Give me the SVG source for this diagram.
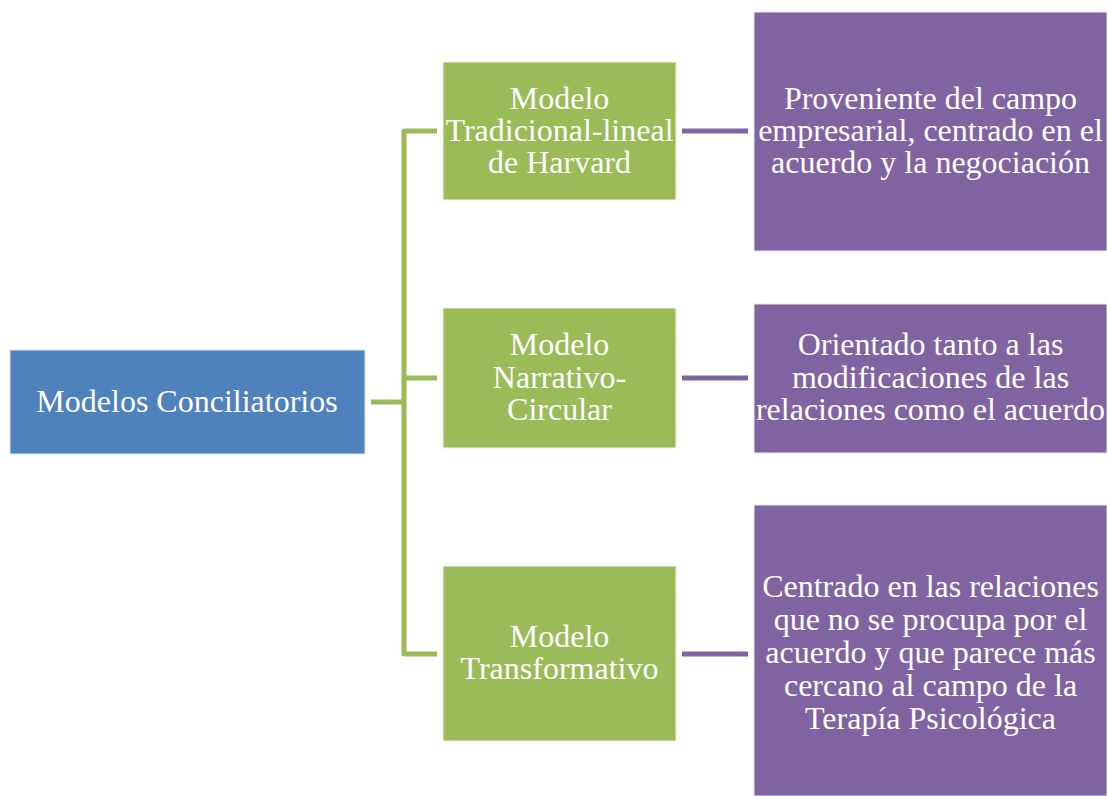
<svg xmlns="http://www.w3.org/2000/svg" width="1107" height="796" viewBox="0 0 1107 796">
<style>
.t{font-family:"Liberation Serif","Times New Roman",serif;font-size:32px;fill:#fff;text-anchor:middle}
.blue{fill:#4F81BD;stroke:#dfe8f3;stroke-width:1}
.green{fill:#9BBB59;stroke:#eef3e3;stroke-width:1}
.purple{fill:#8064A2;stroke:#ece6f2;stroke-width:1}
.cg{stroke:#9BBB59;stroke-width:5;fill:none;stroke-linejoin:round;stroke-linecap:butt}
.cp{stroke:#8064A2;stroke-width:5;fill:none}
</style>
<rect width="1107" height="796" fill="#fff"/>
<g id="connectors">
<path class="cg" d="M371 402 H404"/>
<path class="cg" d="M437 131 H404 V654 H437"/>
<path class="cg" d="M404 378 H437"/>
<path class="cp" d="M682 131 H748"/>
<path class="cp" d="M682 378 H748"/>
<path class="cp" d="M682 654 H748"/>
</g>
<g id="root">
<rect class="blue" x="10" y="350" width="355" height="104"/>
<text class="t" x="187" y="412">Modelos Conciliatorios</text>
</g>
<g id="m1">
<rect class="green" x="443" y="62" width="233" height="138"/>
<text class="t" x="559.5" y="109">Modelo</text>
<text class="t" x="559.5" y="141">Tradicional-lineal</text>
<text class="t" x="559.5" y="173">de Harvard</text>
</g>
<g id="m2">
<rect class="green" x="443" y="308" width="233" height="140"/>
<text class="t" x="559.5" y="355">Modelo</text>
<text class="t" x="559.5" y="388">Narrativo-</text>
<text class="t" x="559.5" y="420">Circular</text>
</g>
<g id="m3">
<rect class="green" x="443" y="566" width="233" height="175"/>
<text class="t" x="559.5" y="647">Modelo</text>
<text class="t" x="559.5" y="679">Transformativo</text>
</g>
<g id="d1">
<rect class="purple" x="754" y="12" width="353" height="239"/>
<text class="t" x="930.5" y="109">Proveniente del campo</text>
<text class="t" x="930.5" y="141">empresarial, centrado en el</text>
<text class="t" x="930.5" y="173">acuerdo y la negociación</text>
</g>
<g id="d2">
<rect class="purple" x="754" y="304" width="353" height="149"/>
<text class="t" x="930.5" y="355">Orientado tanto a las</text>
<text class="t" x="930.5" y="388">modificaciones de las</text>
<text class="t" x="930.5" y="420">relaciones como el acuerdo</text>
</g>
<g id="d3">
<rect class="purple" x="754" y="505" width="353" height="291"/>
<text class="t" x="930.5" y="597">Centrado en las relaciones</text>
<text class="t" x="930.5" y="630">que no se procupa por el</text>
<text class="t" x="930.5" y="663">acuerdo y que parece más</text>
<text class="t" x="930.5" y="696">cercano al campo de la</text>
<text class="t" x="930.5" y="729">Terapía Psicológica</text>
</g>
</svg>
